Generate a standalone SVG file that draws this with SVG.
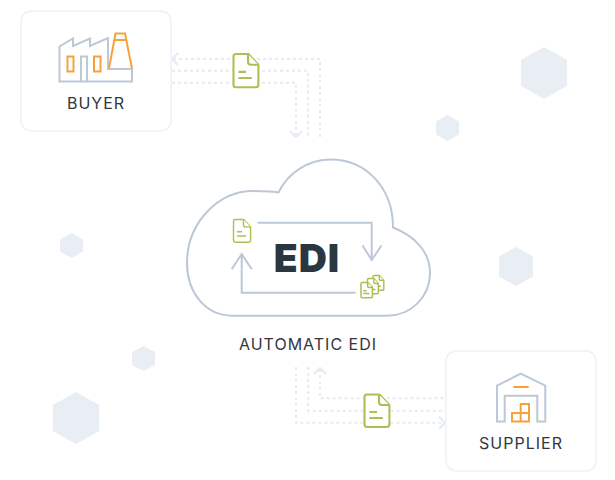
<svg xmlns="http://www.w3.org/2000/svg" width="615" height="480" viewBox="0 0 615 480">
<defs>
<style>
.hex{fill:#e9edf4}
.card{fill:#fff;stroke:#edf1f6;stroke-width:1.5}
.gray{fill:none;stroke:#bdc8d7;stroke-width:2}
.orange{fill:none;stroke:#f6a13c;stroke-width:2}
.dot{fill:none;stroke:#e6ebf3;stroke-width:2;stroke-dasharray:3 3}
.head{fill:none;stroke:#e6ebf3;stroke-width:2}
.doc{fill:#fff;stroke:#abc050;stroke-linejoin:round}
.lbl{font-family:"Inter","Liberation Sans",sans-serif;font-size:16px;fill:#33363f;text-anchor:middle;letter-spacing:1px}
</style>
<g id="docIcon">
<path d="M3 0H18L30 13V37Q30 40 27 40H3Q0 40 0 37V3Q0 0 3 0Z"/>
<path d="M17.500 0V9Q17.500 13 21 13H30"/>
<path d="M6 21.500H15M6 29H22"/>
</g>
</defs>
<rect width="615" height="480" fill="#fff"/>
<g id="hexagons">
<polygon class="hex" points="544,47 567,60 567,86 544,99 521,86 521,60"/>
<polygon class="hex" points="447.500,115 459,121.500 459,134.500 447.500,141 436,134.500 436,121.500"/>
<polygon class="hex" points="516,247 533,256.500 533,276.500 516,286 499,276.500 499,256.500"/>
<polygon class="hex" points="71.500,233 83,239.500 83,251.500 71.500,258 60,251.500 60,239.500"/>
<polygon class="hex" points="143.500,346 155,352 155,365 143.500,371 132,365 132,352"/>
<polygon class="hex" points="76,392 99,405 99,431 76,444 53,431 53,405"/>
</g>
<g id="connectors">
<path class="dot" d="M173 59H320V137"/>
<path class="dot" d="M172 70.700H308V137"/>
<path class="dot" d="M172 82.700H296V136"/>
<path class="head" d="M178 53L172 59L178 65"/>
<path class="head" d="M290 131L296 137L302 131"/>
<path class="dot" d="M320 369V398.300H445"/>
<path class="dot" d="M308.300 367V410.700H445"/>
<path class="dot" d="M296 367V422.700H445"/>
<path class="head" d="M314 374L320 368L326 374"/>
<path class="head" d="M439 416.700L445 422.700L439 428.700"/>
</g>
<g id="buyer">
<rect class="card" x="21" y="11" width="150" height="120" rx="10"/>
<path class="gray" d="M59.500 81.500V46.500L73 38.500V46L90 38.500V46L108 38V69H132V81.500Z"/>
<path class="gray" d="M81 81.500V56.500H87V81.500"/>
<rect class="orange" x="67.500" y="56.500" width="6" height="15"/>
<rect class="orange" x="94" y="56.500" width="6.500" height="15"/>
<path class="orange" d="M109 68.500L115.500 33.500H125L132 68.500M113.500 40H127"/>
<text class="lbl" x="96" y="108.500">BUYER</text>
</g>
<use href="#docIcon" class="doc" transform="translate(233.500,54) scale(.83)" stroke-width="2.500"/>
<g id="cloud">
<path class="gray" d="M278.500 192.500C288 173 308 159.500 331 159.500C366 159.500 393 188 393 227.500C415 236 430 252 430 273C430 297 411 315.700 387 315.700H232C205 315.700 187 292 187 263C187 223 218 191 253 191C262 191 270 191 278.500 192.500Z"/>
<path class="gray" d="M257.500 222.700H371.700V260M362.500 245.500L371.700 260L381.500 245.500"/>
<path class="gray" d="M355.500 292.700H241.700V254M231.700 269.300L241.700 254L251.700 269.300"/>
<use href="#docIcon" class="doc" transform="translate(233.500,219.500) scale(.57)" stroke-width="2.500"/>
<use href="#docIcon" class="doc" transform="translate(373,275.500) scale(.36,.37)" stroke-width="4"/>
<use href="#docIcon" class="doc" transform="translate(367.500,278.500) scale(.36,.38)" stroke-width="4"/>
<use href="#docIcon" class="doc" transform="translate(361,282.500) scale(.38)" stroke-width="4"/>
<text x="307" y="271.700" font-family="Inter, 'Liberation Sans', sans-serif" font-size="39" font-weight="900" letter-spacing="1" fill="#2a3740" text-anchor="middle">EDI</text>
<text class="lbl" x="308" y="349.500">AUTOMATIC EDI</text>
</g>
<use href="#docIcon" class="doc" transform="translate(364.500,394.500) scale(.83,.81)" stroke-width="2.500"/>
<g id="supplier">
<rect class="card" x="446" y="351" width="150" height="120" rx="10"/>
<path class="gray" d="M497 421.500V385.700L520.700 373.500L545.300 385.700V421.500H537.300V395.700H504.700V421.500Z"/>
<path class="orange" d="M513.300 387H528.700"/>
<path class="orange" d="M512 421.500V413H520.700V404H529V421.500ZM520.700 413V421.500M520.700 413H529"/>
<text class="lbl" x="521" y="449" letter-spacing="1.500">SUPPLIER</text>
</g>
</svg>
